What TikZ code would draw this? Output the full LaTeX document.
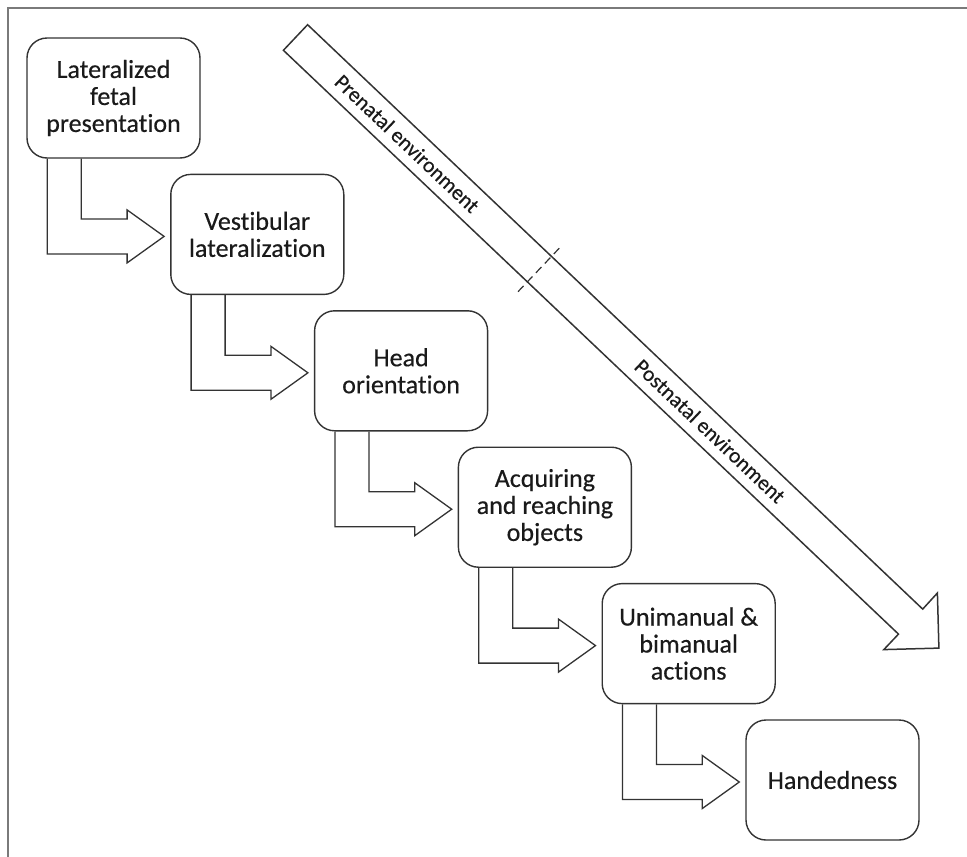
\documentclass[tikz,border=0pt]{standalone}
\usepackage{fontspec}
\setmainfont[Ligatures=NoCommon, FakeBold=0.4]{Carlito}
\usetikzlibrary{calc}
\definecolor{ln}{HTML}{333333}
\definecolor{txt}{HTML}{1A1A1A}
\definecolor{frm}{HTML}{7A7A7A}
\begin{document}
\begin{tikzpicture}[x=1pt,y=-1pt,
  stagebox/.style={draw=ln, line width=1.4pt, rounded corners=20pt,
    minimum width=173pt, minimum height=120pt, inner sep=0pt,
    align=center, text=txt, font=\fontsize{26}{27}\selectfont},
  bendarrow/.style={draw=ln, line width=1.3pt, line join=miter},
  bigarrow/.style={draw=ln, line width=1.5pt, line join=miter},
  envtext/.style={text=txt, font=\fontsize{21.5}{24}\selectfont, inner sep=0pt}]
\useasboundingbox (0,0) rectangle (967,857);
\draw[frm, line width=1.8pt] (8,857) -- (8,8) -- (967,8);

% stage boxes
\node[stagebox] (b1) at (113.5,98.0) {Lateralized\\fetal\\presentation};
\node[stagebox] (b2) at (257.3,234.4) {Vestibular\\lateralization};
\node[stagebox] (b3) at (401.1,370.8) {Head\\orientation};
\node[stagebox] (b4) at (544.9,507.2) {Acquiring\\and reaching\\objects};
\node[stagebox] (b5) at (688.7,643.6) {Unimanual \&\\bimanual\\actions};
\node[stagebox] (b6) at (832.5,780.0) {Handedness};

% bent block arrows between stages
\foreach \a/\b in {b1/b2,b2/b3,b3/b4,b4/b5,b5/b6}{
  \draw[bendarrow] ($(\a.south west)+(21,0)$) |- ($(\b.west)+(-43,19.5)$)
    -- ($(\b.west)+(-43,28.5)$) -- ($(\b.west)+(-6,2)$)
    -- ($(\b.west)+(-43,-24.5)$) -- ($(\b.west)+(-43,-15.5)$)
    -| ($(\a.south west)+(55,0)$);
}

% large diagonal arrow
\coordinate (t1) at (307.6,24.7);
\coordinate (t2) at (283.4,50.3);
\coordinate (s2) at (898.5,634.1);
\coordinate (w2) at (883.8,649.6);
\coordinate (tip) at (938.9,648.1);
\coordinate (w1) at (937.4,593.0);
\coordinate (s1) at (922.7,609.1);
\draw[bigarrow] (t1) -- (t2) -- (s2) -- (w2) -- (tip) -- (w1) -- (s1) -- cycle;

% boundary between prenatal and postnatal
\coordinate (d1) at (518.0,291.7);
\coordinate (d2) at (562.0,245.3);
\draw[ln, line width=1.2pt, dash pattern=on 8pt off 5pt] (d1) -- (d2);

\node[envtext, rotate=-43.5] (pre) at (407.2,143.5) {Prenatal environment};
\node[envtext, rotate=-43.5] (post) at (710.1,431.0) {Postnatal environment};
\end{tikzpicture}
\end{document}
